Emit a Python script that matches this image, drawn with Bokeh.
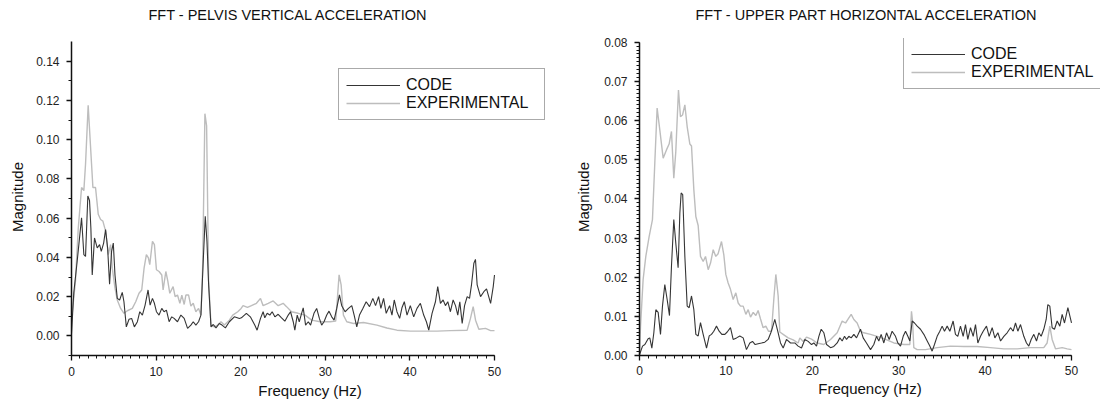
from bokeh.plotting import figure
from bokeh.layouts import row
from bokeh.models import (Range1d, SingleIntervalTicker, NumeralTickFormatter,
                          Legend, LegendItem, Title)
from bokeh.embed import file_html
from bokeh.resources import INLINE

# ---------------- data ----------------
titles = ["FFT - PELVIS VERTICAL ACCELERATION", "FFT - UPPER PART HORIZONTAL ACCELERATION"]
series_names = ["CODE", "EXPERIMENTAL"]
x_label = "Frequency (Hz)"
y_label = "Magnitude"
x_axis_max = 50

pelvis_exp_f = [0.0, 0.47, 0.8, 1.19, 1.46, 1.66, 1.97, 2.37, 2.53, 2.84, 3.16, 3.44, 3.71, 4.03, 4.35,
                4.62, 4.82, 5.14, 5.41, 5.81, 6.2, 6.6, 7.19, 7.59, 7.98, 8.30, 8.58, 8.85, 9.09, 9.25,
                9.57, 9.80, 10.04, 10.35, 10.67, 10.83, 11.15, 11.38, 11.62, 12.01, 12.25, 12.53, 12.81,
                13.04, 13.32, 13.52, 13.84, 14.11, 14.39, 14.70, 15.02, 15.30, 15.5, 15.77, 15.97, 16.21,
                16.49, 16.88, 17.28, 17.67, 18.07, 18.66, 19.06, 19.65, 20.05, 20.28, 20.8, 21.27, 21.86,
                22.34, 22.65, 23.25, 23.84, 24.43, 25.02, 25.42, 26.01, 26.8, 27.6, 28.39, 29.38, 30.56,
                31.23, 31.43, 31.63, 31.87, 32.14, 32.54, 33.33, 34.52, 36.1, 37.28, 38.47, 40.05, 41.63,
                43.21, 44.79, 46.77, 47.16, 47.48, 47.76, 48.15, 48.94, 49.54, 50.0]
pelvis_exp_m = [0.008, 0.028, 0.055, 0.0756, 0.074, 0.0876, 0.1175, 0.0876, 0.0756, 0.0756, 0.062, 0.0593,
                0.0585, 0.0534, 0.0414, 0.0465, 0.0345, 0.0243, 0.0183, 0.014, 0.0115, 0.0128, 0.014,
                0.0174, 0.0217, 0.0234, 0.0345, 0.0414, 0.0397, 0.0363, 0.0482, 0.0465, 0.0337, 0.0328,
                0.031, 0.0234, 0.0328, 0.028, 0.0217, 0.0251, 0.0200, 0.0208, 0.0166, 0.0208, 0.016,
                0.0208, 0.0208, 0.0152, 0.0166, 0.0123, 0.014, 0.0106, 0.0345, 0.1132, 0.107, 0.028,
                0.0055, 0.0046, 0.0055, 0.0072, 0.0055, 0.008, 0.0106, 0.0123, 0.014, 0.0154, 0.0145,
                0.0154, 0.0166, 0.0191, 0.0154, 0.0166, 0.0178, 0.0154, 0.0166, 0.0149, 0.0123, 0.0115,
                0.0106, 0.008, 0.0072, 0.0072, 0.0075, 0.0191, 0.0311, 0.026, 0.0106, 0.0072, 0.0063,
                0.0068, 0.0055, 0.004, 0.0029, 0.0024, 0.0024, 0.0024, 0.0027, 0.0029, 0.0089, 0.0149,
                0.008, 0.0034, 0.0038, 0.0027, 0.0027]

pelvis_code_f = [0.0, 0.27, 0.67, 1.19, 1.46, 1.66, 1.93, 2.13, 2.29, 2.45, 2.72, 3.04, 3.32, 3.52, 3.80,
                 4.03, 4.27, 4.50, 4.74, 4.94, 5.14, 5.41, 5.69, 6.0, 6.2, 6.48, 6.8, 7.11, 7.43, 7.79,
                 8.07, 8.38, 8.7, 9.05, 9.29, 9.57, 9.80, 10.04, 10.35, 10.67, 10.94, 11.22, 11.54, 11.85,
                 12.13, 12.53, 12.93, 13.32, 13.72, 14.11, 14.39, 14.70, 15.02, 15.30, 15.57, 15.81, 16.01,
                 16.21, 16.49, 16.76, 17.08, 17.47, 17.79, 18.19, 18.66, 19.25, 19.85, 20.08, 20.67, 21.14,
                 21.66, 21.94, 22.34, 22.65, 22.85, 23.13, 23.44, 23.72, 24.04, 24.43, 24.83, 25.22, 25.62,
                 25.89, 26.21, 26.4, 26.68, 26.92, 27.2, 27.39, 27.67, 27.99, 28.26, 28.66, 28.98, 29.3,
                 29.57, 29.85, 30.17, 30.44, 30.76, 31.04, 31.35, 31.67, 31.94, 32.34, 32.74, 33.13, 33.41,
                 33.72, 34.04, 34.44, 34.83, 35.23, 35.62, 35.94, 36.3, 36.57, 36.89, 37.2, 37.6, 37.88,
                 38.15, 38.47, 38.79, 39.06, 39.34, 39.66, 40.05, 40.45, 40.84, 41.24, 41.63, 41.95, 42.23,
                 42.62, 43.02, 43.29, 43.61, 43.93, 44.2, 44.48, 44.79, 45.11, 45.39, 45.66, 45.9, 46.18,
                 46.46, 46.77, 47.05, 47.28, 47.56, 47.75, 47.95, 48.35, 48.74, 49.06, 49.54, 49.85, 50.0]
pelvis_code_m = [0.001, 0.022, 0.038, 0.0602, 0.0414, 0.0405, 0.0713, 0.069, 0.055, 0.031, 0.0499, 0.0448,
                 0.0465, 0.0431, 0.0473, 0.0542, 0.0448, 0.0263, 0.0431, 0.0473, 0.031, 0.0191, 0.0183,
                 0.0222, 0.0174, 0.0046, 0.0085, 0.0089, 0.0046, 0.0072, 0.0123, 0.0106, 0.0157, 0.0234,
                 0.0157, 0.0191, 0.0166, 0.0123, 0.0106, 0.014, 0.0123, 0.0131, 0.0072, 0.0097, 0.0089,
                 0.0072, 0.0106, 0.0089, 0.0038, 0.0055, 0.0072, 0.0055, 0.0072, 0.0106, 0.038, 0.061,
                 0.0482, 0.026, 0.0046, 0.0058, 0.0041, 0.0063, 0.0055, 0.0041, 0.0072, 0.0097, 0.0089,
                 0.0092, 0.0115, 0.0097, 0.0055, 0.0029, 0.0089, 0.0123, 0.0092, 0.0115, 0.0106, 0.0123,
                 0.0097, 0.011, 0.0092, 0.0075, 0.0106, 0.0123, 0.0072, 0.0029, 0.0106, 0.0072, 0.0115,
                 0.0143, 0.0055, 0.0072, 0.0055, 0.0115, 0.014, 0.0089, 0.0055, 0.0072, 0.0106, 0.0126,
                 0.0097, 0.008, 0.014, 0.0209, 0.0154, 0.0123, 0.014, 0.0154, 0.0106, 0.0046, 0.0106,
                 0.014, 0.0174, 0.0149, 0.0191, 0.0154, 0.0200, 0.014, 0.0191, 0.0115, 0.0154, 0.0106,
                 0.0183, 0.0123, 0.0089, 0.0143, 0.0174, 0.0106, 0.0154, 0.0097, 0.014, 0.0166, 0.0106,
                 0.0072, 0.0029, 0.0115, 0.0174, 0.0251, 0.0166, 0.0183, 0.0154, 0.0174, 0.0123, 0.0183,
                 0.0154, 0.0106, 0.0174, 0.0063, 0.0154, 0.020, 0.0191, 0.026, 0.037, 0.039, 0.026, 0.020,
                 0.0225, 0.024, 0.0166, 0.0251, 0.031]

upper_exp_f = [0.0, 0.12, 0.42, 0.73, 1.12, 1.5, 1.77, 2.04, 2.35, 2.74, 3.12, 3.43, 3.7, 3.97, 4.2, 4.51,
               4.74, 4.98, 5.25, 5.52, 5.83, 6.02, 6.29, 6.52, 6.79, 7.06, 7.37, 7.64, 7.95, 8.22, 8.53,
               8.83, 9.1, 9.49, 9.76, 9.99, 10.26, 10.53, 10.84, 11.15, 11.42, 11.69, 12.0, 12.31, 12.58,
               12.85, 13.16, 13.47, 13.73, 14.0, 14.31, 14.62, 14.93, 15.28, 15.55, 15.78, 16.05, 16.24,
               16.63, 17.21, 17.79, 18.36, 18.56, 18.94, 19.33, 19.91, 20.56, 21.34, 22.11, 22.88, 23.46,
               23.85, 24.12, 24.5, 24.81, 25.19, 25.58, 25.96, 26.74, 27.51, 28.28, 29.44, 30.6, 31.29,
               31.48, 31.6, 31.75, 32.14, 33.1, 34.45, 35.99, 37.54, 39.08, 40.62, 42.17, 43.71, 45.25,
               46.79, 47.18, 47.49, 47.76, 48.15, 48.92, 49.5, 50.0]
upper_exp_m = [0.001, 0.0075, 0.0194, 0.0253, 0.0304, 0.0347, 0.0491, 0.0632, 0.0576, 0.0504, 0.0525,
               0.054, 0.0572, 0.0453, 0.052, 0.0678, 0.061, 0.0614, 0.064, 0.0584, 0.054, 0.0535, 0.0423,
               0.0355, 0.0332, 0.0253, 0.024, 0.0253, 0.0219, 0.0236, 0.027, 0.0253, 0.026, 0.0291,
               0.0257, 0.0207, 0.0185, 0.0169, 0.0143, 0.016, 0.0134, 0.0126, 0.0126, 0.0105, 0.0117,
               0.0098, 0.011, 0.0102, 0.0115, 0.0094, 0.0071, 0.0075, 0.0062, 0.0062, 0.0145, 0.0207,
               0.0152, 0.006, 0.0054, 0.0045, 0.004, 0.0032, 0.0045, 0.0036, 0.0047, 0.0042, 0.0032,
               0.0028, 0.0041, 0.0058, 0.0088, 0.0083, 0.0092, 0.0105, 0.0092, 0.0083, 0.0062, 0.0058,
               0.0054, 0.0049, 0.0043, 0.0032, 0.0028, 0.0028, 0.0113, 0.0088, 0.002, 0.0015, 0.0015,
               0.002, 0.0024, 0.0023, 0.0023, 0.002, 0.0017, 0.0017, 0.002, 0.002, 0.0032, 0.0075, 0.0041,
               0.0017, 0.002, 0.0017, 0.0015]

upper_code_f = [0.0, 0.35, 0.62, 1.0, 1.19, 1.43, 1.66, 1.89, 2.16, 2.43, 2.66, 2.93, 3.2, 3.47, 3.7, 3.97,
                4.2, 4.47, 4.67, 4.82, 5.0, 5.25, 5.52, 5.75, 6.02, 6.29, 6.52, 6.79, 7.06, 7.37, 7.76,
                8.07, 8.33, 8.6, 8.91, 9.22, 9.53, 9.88, 10.15, 10.53, 10.84, 11.23, 11.61, 12.0, 12.38,
                12.77, 13.08, 13.39, 13.73, 14.12, 14.5, 14.89, 15.2, 15.39, 15.66, 16.05, 16.32, 16.63,
                17.01, 17.48, 17.98, 18.36, 18.75, 19.14, 19.52, 19.91, 20.18, 20.49, 20.76, 21.03, 21.34,
                21.65, 22.11, 22.49, 22.88, 23.19, 23.46, 23.73, 23.96, 24.23, 24.5, 24.81, 25.12, 25.39,
                25.58, 25.89, 26.27, 26.74, 27.12, 27.43, 27.7, 27.97, 28.28, 28.59, 28.9, 29.24, 29.63,
                29.9, 30.21, 30.52, 30.79, 31.06, 31.29, 31.56, 31.83, 32.14, 32.52, 32.91, 33.3, 33.6,
                33.87, 34.14, 34.45, 34.76, 35.03, 35.3, 35.61, 35.92, 36.3, 36.57, 36.84, 37.15, 37.46,
                37.73, 38.0, 38.31, 38.62, 38.89, 39.16, 39.47, 39.78, 40.16, 40.47, 40.82, 41.13, 41.48,
                41.79, 42.17, 42.55, 42.94, 43.25, 43.52, 43.79, 44.1, 44.48, 44.79, 45.06, 45.33, 45.64,
                45.95, 46.22, 46.49, 46.79, 47.07, 47.26, 47.49, 47.76, 48.03, 48.34, 48.65, 48.92, 49.19,
                49.58, 50.0]
upper_code_m = [0.0002, 0.0024, 0.0028, 0.0043, 0.0045, 0.0019, 0.0058, 0.0117, 0.011, 0.0054, 0.0126,
                0.0181, 0.0143, 0.0102, 0.0228, 0.0347, 0.0287, 0.0224, 0.0364, 0.0415, 0.0411, 0.0253,
                0.0126, 0.0122, 0.0152, 0.0117, 0.0054, 0.005, 0.0084, 0.0054, 0.0019, 0.005, 0.0054,
                0.0062, 0.0075, 0.0062, 0.0054, 0.0054, 0.006, 0.0071, 0.0041, 0.0045, 0.005, 0.0045,
                0.0015, 0.0032, 0.0036, 0.0028, 0.003, 0.0032, 0.0034, 0.0041, 0.0058, 0.0071, 0.0092,
                0.0058, 0.0032, 0.0019, 0.0041, 0.0032, 0.0032, 0.0024, 0.0019, 0.0041, 0.0036, 0.0028,
                0.0032, 0.0024, 0.0049, 0.0067, 0.0058, 0.0028, 0.002, 0.0023, 0.0032, 0.0045, 0.0037,
                0.0049, 0.0041, 0.0049, 0.0045, 0.0054, 0.0045, 0.0058, 0.0067, 0.0045, 0.0032, 0.0015,
                0.0028, 0.0049, 0.0037, 0.0054, 0.0032, 0.0058, 0.0041, 0.0062, 0.0049, 0.0032, 0.0024,
                0.0049, 0.0062, 0.0049, 0.0037, 0.0088, 0.0083, 0.0075, 0.0067, 0.0054, 0.0037, 0.0024,
                0.0011, 0.0028, 0.0049, 0.0062, 0.0075, 0.0062, 0.0075, 0.0062, 0.0088, 0.0054, 0.0049,
                0.0075, 0.0049, 0.0079, 0.0041, 0.0071, 0.0049, 0.0079, 0.0032, 0.0049, 0.0062, 0.0075,
                0.0049, 0.0071, 0.0045, 0.0058, 0.0037, 0.0049, 0.0058, 0.0071, 0.0062, 0.0083, 0.0062,
                0.0079, 0.0049, 0.0032, 0.0024, 0.0041, 0.0054, 0.0037, 0.0058, 0.0049, 0.0067, 0.0092,
                0.013, 0.0126, 0.0071, 0.0067, 0.0088, 0.0075, 0.0105, 0.0083, 0.0122, 0.0083]

FONT = "Liberation Sans"
CODE_COLOR = "#353535"
EXP_COLOR = "#bdbdbd"

HEIGHT = 403
FRAME_TOP = 38      # common frame (row layout aligns both frames)
FRAME_BOTTOM = 355


def make_panel(title, exp_f, exp_m, code_f, code_m, y_axis_rng, y_top_px, y_interval, y_minor,
               width, lr_borders, frame_px_50, title_offset, legend_loc, x_std, y_label_std):
    frame_w = width - lr_borders[0] - lr_borders[1]
    # frame extended right/up so that the legend box fits; axes stay bounded to the data ranges
    x_end = x_axis_max * frame_w / frame_px_50
    y0, y1 = y_axis_rng
    scale = (FRAME_BOTTOM - y_top_px) / (y1 - y0)
    y_end = y1 + (y_top_px - FRAME_TOP) / scale
    p = figure(width=width, height=HEIGHT, output_backend="svg", toolbar_location=None,
               x_range=Range1d(0, x_end), y_range=Range1d(y0, y_end),
               min_border_left=lr_borders[0], min_border_right=lr_borders[1],
               min_border_top=FRAME_TOP, min_border_bottom=HEIGHT - FRAME_BOTTOM)
    p.outline_line_color = None
    p.grid.visible = False
    p.background_fill_color = "white"
    p.border_fill_color = "white"

    # spacer panel between the frame and the title
    p.add_layout(Title(text=" ", text_font_size="1px", standoff=6), "above")

    p.title.text = title
    p.title.text_font = FONT
    p.title.text_font_size = "14.5px"
    p.title.text_font_style = "normal"
    p.title.text_color = "#111111"
    p.title.align = "left"
    p.title.vertical_align = "top"
    p.title.offset = title_offset
    p.title.standoff = 10

    r_exp = p.line(exp_f, exp_m, line_color=EXP_COLOR, line_width=1.4)
    r_code = p.line(code_f, code_m, line_color=CODE_COLOR, line_width=1.1)

    p.xaxis.ticker = SingleIntervalTicker(interval=10, num_minor_ticks=10)
    p.xaxis.bounds = (0, x_axis_max)
    p.yaxis.ticker = SingleIntervalTicker(interval=y_interval, num_minor_ticks=y_minor)
    p.yaxis.bounds = (y0, y1)
    p.yaxis.formatter = NumeralTickFormatter(format="0.00")
    for ax in (p.xaxis[0], p.yaxis[0]):
        ax.axis_line_width = 1.5
        ax.axis_line_color = "#111111"
        ax.major_tick_line_color = "#111111"
        ax.minor_tick_line_color = "#111111"
        ax.major_tick_line_width = 1.3
        ax.minor_tick_line_width = 1
        ax.major_tick_out = 5
        ax.major_tick_in = 0
        ax.minor_tick_out = 3
        ax.minor_tick_in = 0
        ax.major_label_text_font = FONT
        ax.major_label_text_font_size = "12px"
        ax.major_label_text_color = "#222222"
        ax.axis_label_text_font = FONT
        ax.axis_label_text_font_size = "15px"
        ax.axis_label_text_font_style = "normal"
        ax.axis_label_text_color = "#111111"
    p.xaxis.axis_label = x_label
    p.yaxis.axis_label = y_label
    p.xaxis.major_label_standoff = x_std[0]
    p.xaxis.axis_label_standoff = x_std[1]
    p.yaxis.major_label_standoff = 7
    p.yaxis.axis_label_standoff = y_label_std

    legend = Legend(items=[LegendItem(label=series_names[0], renderers=[r_code]),
                           LegendItem(label=series_names[1], renderers=[r_exp])],
                    location=legend_loc, orientation="vertical",
                    label_text_font=FONT, label_text_font_size="16px",
                    label_text_color="#111111",
                    glyph_width=54, glyph_height=16, label_height=16, label_width=131,
                    label_standoff=6, spacing=0, padding=7, margin=0,
                    border_line_color="#555555", border_line_width=1,
                    background_fill_color="white", background_fill_alpha=1.0)
    p.add_layout(legend)
    return p


p1 = make_panel(titles[0], pelvis_exp_f, pelvis_exp_m, pelvis_code_f, pelvis_code_m,
                (-0.01, 0.15), 41, 0.02, 2, width=560, lr_borders=(71, 12), frame_px_50=423,
                title_offset=77, legend_loc=(267, 235), x_std=(6, 3), y_label_std=7)
p2 = make_panel(titles[1], upper_exp_f, upper_exp_m, upper_code_f, upper_code_m,
                (0.0, 0.08), 41.7, 0.01, 10, width=542, lr_borders=(79, 2), frame_px_50=432,
                title_offset=56, legend_loc=(264, 266), x_std=(5, 2), y_label_std=9)

layout = row(p1, p2)
open("out.html", "w").write(file_html(layout, INLINE))
